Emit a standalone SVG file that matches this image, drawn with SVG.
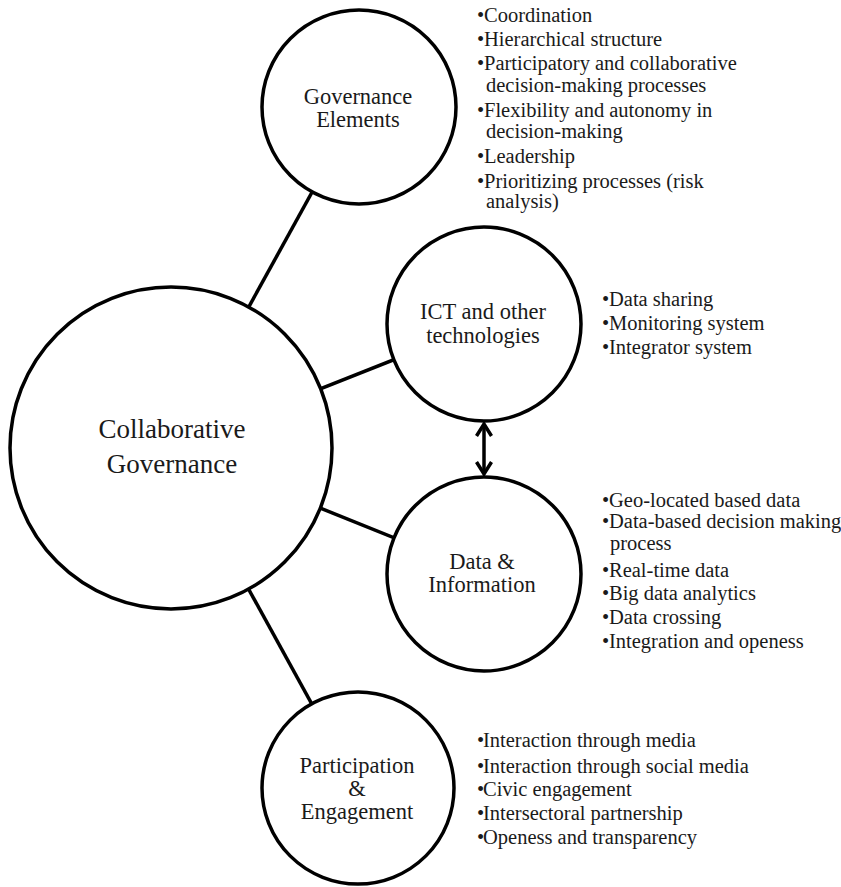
<svg xmlns="http://www.w3.org/2000/svg" width="841" height="887" viewBox="0 0 841 887">
  <style>
    .node { fill: #ffffff; stroke: #000000; stroke-width: 3.5; }
    .link { stroke: #000000; stroke-width: 3.5; fill: none; }
    .label { font-family: "Liberation Serif", "Times New Roman", serif; fill: #1a1a1a; text-anchor: middle; }
    .big { font-size: 27px; }
    .mid { font-size: 22.5px; }
    .list { font-family: "Liberation Serif", "Times New Roman", serif; font-size: 20.5px; fill: #1a1a1a; }
  </style>
  <defs>
    <marker id="arrow" viewBox="0 0 18 18" refX="14" refY="9" markerWidth="18" markerHeight="18" markerUnits="userSpaceOnUse" orient="auto-start-reverse">
      <path d="M2,1.5 L14,9 L2,16.5" fill="none" stroke="#000000" stroke-width="3.5" stroke-linejoin="miter"/>
    </marker>
  </defs>
  <rect width="841" height="887" fill="#ffffff"/>

  <!-- connectors: hub spokes plus the two-way link between technology and data -->
  <g id="connectors">
    <line class="link" x1="171" y1="448" x2="359" y2="107"/>
    <line class="link" x1="171" y1="448" x2="484" y2="324"/>
    <line class="link" x1="171" y1="448" x2="484" y2="574"/>
    <line class="link" x1="171" y1="448" x2="358" y2="788"/>
    <line class="link" x1="484" y1="424" x2="484" y2="474" marker-start="url(#arrow)" marker-end="url(#arrow)"/>
  </g>

  <g id="collaborative-governance">
    <circle class="node" cx="171" cy="448" r="161"/>
    <text class="label big" x="172" y="438">Collaborative</text>
    <text class="label big" x="172" y="473">Governance</text>
  </g>

  <g id="governance-elements">
    <circle class="node" cx="359" cy="107" r="97"/>
    <text class="label mid" x="358" y="104">Governance</text>
    <text class="label mid" x="358" y="127">Elements</text>
  </g>

  <g id="ict">
    <circle class="node" cx="484" cy="324" r="97"/>
    <text class="label mid" x="483" y="319">ICT and other</text>
    <text class="label mid" x="483" y="343">technologies</text>
  </g>

  <g id="data-information">
    <circle class="node" cx="484" cy="574" r="97"/>
    <text class="label mid" x="482" y="569">Data &amp;</text>
    <text class="label mid" x="482" y="592">Information</text>
  </g>

  <g id="participation-engagement">
    <circle class="node" cx="358" cy="788" r="96"/>
    <text class="label mid" x="357" y="773">Participation</text>
    <text class="label mid" x="357" y="796">&amp;</text>
    <text class="label mid" x="357" y="819">Engagement</text>
  </g>

  <!-- bullet lists -->
  <g id="governance-list" class="list">
    <text x="477" y="22">•</text><text x="484" y="22">Coordination</text>
    <text x="477" y="46">•</text><text x="484" y="46">Hierarchical structure</text>
    <text x="477" y="70">•</text><text x="484" y="70">Participatory and collaborative</text>
    <text x="486" y="92">decision-making processes</text>
    <text x="477" y="117">•</text><text x="484" y="117">Flexibility and autonomy in</text>
    <text x="486" y="138">decision-making</text>
    <text x="477" y="163">•</text><text x="484" y="163">Leadership</text>
    <text x="477" y="188">•</text><text x="484" y="188">Prioritizing processes (risk</text>
    <text x="486" y="208">analysis)</text>
  </g>

  <g id="ict-list" class="list">
    <text x="602" y="306">•</text><text x="609" y="306">Data sharing</text>
    <text x="602" y="330">•</text><text x="609" y="330">Monitoring system</text>
    <text x="602" y="354">•</text><text x="609" y="354">Integrator system</text>
  </g>

  <g id="data-list" class="list">
    <text x="602" y="507">•</text><text x="609" y="507">Geo-located based data</text>
    <text x="602" y="528">•</text><text x="609" y="528">Data-based decision making</text>
    <text x="610" y="550">process</text>
    <text x="602" y="577">•</text><text x="609" y="577">Real-time data</text>
    <text x="602" y="600">•</text><text x="609" y="600">Big data analytics</text>
    <text x="602" y="624">•</text><text x="609" y="624">Data crossing</text>
    <text x="602" y="648">•</text><text x="609" y="648">Integration and openess</text>
  </g>

  <g id="participation-list" class="list">
    <text x="477" y="747">•</text><text x="483" y="747">Interaction through media</text>
    <text x="477" y="773">•</text><text x="483" y="773">Interaction through social media</text>
    <text x="477" y="796">•</text><text x="483" y="796">Civic engagement</text>
    <text x="477" y="820">•</text><text x="483" y="820">Intersectoral partnership</text>
    <text x="477" y="844">•</text><text x="483" y="844">Openess and transparency</text>
  </g>
</svg>
